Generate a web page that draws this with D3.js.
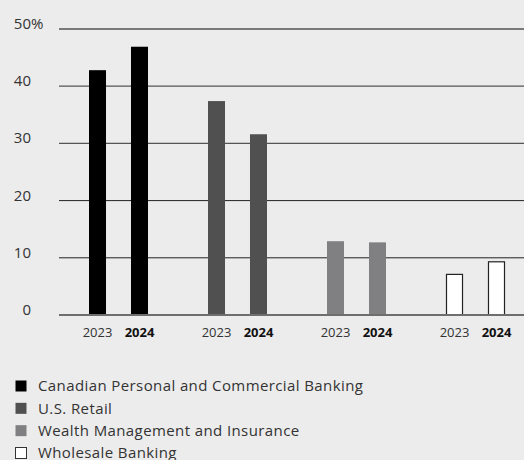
<!DOCTYPE html>
<html>
<head>
<meta charset="utf-8">
<script src="https://cdn.jsdelivr.net/npm/d3@7"></script>
<style>
  html, body { margin: 0; padding: 0; background: #ececec; }
  svg { display: block; font-family: "Open Sans", "Noto Sans", sans-serif; }
</style>
</head>
<body>
<svg id="chart" width="524" height="460"></svg>
<script>
// Segment share of adjusted net income (%)
const segments = [
  "Canadian Personal and Commercial Banking",
  "U.S. Retail",
  "Wealth Management and Insurance",
  "Wholesale Banking"
];
const years = ["2023", "2024"];
const values2023 = [42.8, 37.4, 12.9, 7.1];
const values2024 = [46.9, 31.6, 12.7, 9.3];
const yTicks = [0, 10, 20, 30, 40, 50];
const fills = ["#000000", "#505050", "#808083", "#ffffff"];

const svg = d3.select("#chart");

const y = d3.scaleLinear().domain([0, 50]).range([315, 29]);
const x = d3.scaleBand().domain(segments).range([59, 535]).paddingInner(0).paddingOuter(0);
const xYear = d3.scaleBand().domain(years).range([30, 89]).paddingInner(0.595).paddingOuter(0);
const color = d3.scaleOrdinal().domain(segments).range(fills);

// Horizontal gridlines
svg.append("g")
  .selectAll("line")
  .data(yTicks.filter(d => d > 0))
  .join("line")
  .attr("x1", 59).attr("x2", 524)
  .attr("y1", d => y(d)).attr("y2", d => y(d))
  .attr("stroke", d => d >= 30 ? "#555" : "#222")
  .attr("stroke-width", d => d >= 30 ? 1.3 : 1);

// Y tick labels
const yl = svg.append("g").attr("fill", "#333").attr("font-size", 15);
yl.selectAll("text.num")
  .data(yTicks)
  .join("text")
  .attr("class", "num")
  .attr("x", 31)
  .attr("y", d => y(d))
  .attr("text-anchor", "end")
  .text(d => d);
yl.append("text")
  .attr("x", 31)
  .attr("y", y(50))
  .text("%");

// Bars
const rows = [];
segments.forEach((s, i) => {
  rows.push({ seg: s, year: "2023", v: values2023[i] });
  rows.push({ seg: s, year: "2024", v: values2024[i] });
});

svg.append("g")
  .selectAll("rect")
  .data(rows)
  .join("rect")
  .attr("x", d => x(d.seg) + xYear(d.year) + (d.seg === "Wholesale Banking" ? 0.5 : 0))
  .attr("y", d => y(d.v))
  .attr("width", d => xYear.bandwidth() - (d.seg === "Wholesale Banking" ? 1 : 0))
  .attr("height", d => y(0) - y(d.v))
  .attr("fill", d => color(d.seg))
  .attr("stroke", d => d.seg === "Wholesale Banking" ? "#222" : "none")
  .attr("stroke-width", 1.2);

// Baseline
svg.append("line")
  .attr("x1", 59).attr("x2", 524)
  .attr("y1", y(0)).attr("y2", y(0))
  .attr("stroke", "#6e6e6e")
  .attr("stroke-width", 2);

// Year labels
svg.append("g")
  .selectAll("text")
  .data(rows)
  .join("text")
  .attr("x", d => x(d.seg) + xYear(d.year) + xYear.bandwidth() / 2)
  .attr("y", 337)
  .attr("text-anchor", "middle")
  .attr("font-size", 13)
  .attr("fill", d => d.year === "2024" ? "#111" : "#333")
  .attr("font-weight", d => d.year === "2024" ? "bold" : "normal")
  .text(d => d.year);

// Legend
const lg = svg.append("g");
const rowY = d3.scalePoint().domain(segments).range([386, 453]);
const item = lg.selectAll("g").data(segments).join("g")
  .attr("transform", d => `translate(0,${rowY(d)})`);
item.append("rect")
  .attr("x", 15.5).attr("y", -5.5)
  .attr("width", 11).attr("height", 11)
  .attr("fill", d => color(d))
  .attr("stroke", d => d === "Wholesale Banking" ? "#333" : "none")
  .attr("stroke-width", 1);
item.append("text")
  .attr("x", 38)
  .attr("dy", "0.35em")
  .attr("font-size", 15)
  .attr("letter-spacing", 0.4)
  .attr("fill", "#333")
  .text(d => d);
</script>
</body>
</html>
